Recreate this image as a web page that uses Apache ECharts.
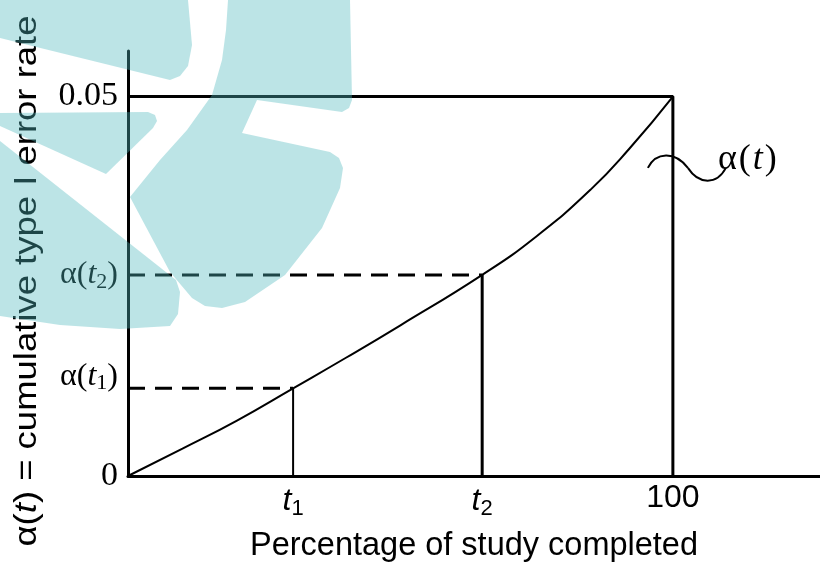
<!DOCTYPE html>
<html>
<head>
<meta charset="utf-8">
<script src="https://cdn.jsdelivr.net/npm/echarts@6/dist/echarts.min.js"></script>
<style>
  html, body { margin: 0; padding: 0; background: #fff; }
  #chart { width: 820px; height: 568px; }
</style>
</head>
<body>
<div id="chart"></div>
<script>
// cumulative type I error spending curve
var curveX = [0, 10, 20, 30.3, 40, 50, 65, 75, 85, 92, 100];
var curveY = [0, 0.0036, 0.0073, 0.01155, 0.01558, 0.01986, 0.0265, 0.0316, 0.0378, 0.04312, 0.05];

var t1 = 30.3, t2 = 65, tEnd = 100;
var alphaT1 = 0.01155, alphaT2 = 0.0265, alphaMax = 0.05;

var yTickValues = [0, alphaT1, alphaT2, alphaMax];
var yTickLabels = ['{n|0}', '{a1|α}{p1|(}{i1|t}{s1|1}{p1|)}', '{a|α}{p|(}{i|t}{s|2}{p|)}', '{n|0.05}'];
var xTickValues = [t1, t2, tEnd];
var xTickLabels = ['{i|t}{s|1}', '{i|t}{s|2}', '{n|100}'];

var yName = '{a|α(}{i|t}{a|) = cumulative type I error rate}';
var xName = 'Percentage of study completed';

var squigglePoint = [100, 0.0406];

var serif = 'Liberation Serif';
var sans = 'Liberation Sans';

function pick(values, labels, v) {
  for (var i = 0; i < values.length; i++) {
    if (Math.abs(values[i] - v) < 1e-7) return labels[i];
  }
  return '';
}

function zip(a, b) {
  return a.map(function(x, i) { return [x, b[i]]; });
}

var chart = echarts.init(document.getElementById('chart'));

// watermark laid over the figure (decorative)
var wmFill = 'rgba(79,184,189,0.38)';
var watermark = [
  [[0,0],[188,0],[192,45],[188,66],[180,76],[170,80],[0,38]],
  [[0,113],[148,112],[155,115],[157,121],[153,128],[106,174],[0,126]],
  [[0,141],[176,280],[180,292],[178,314],[170,326],[120,329],[60,325],[0,316]],
  [[228,0],[350,0],[352,100],[349,108],[342,112],[257,100],[242,133],[330,152],[339,158],[343,168],
   [340,188],[322,228],[285,275],[245,302],[222,308],[205,306],[192,298],[170,272],[130,197],
   [160,160],[187,130],[212,95],[222,60],[226,30]]
].map(function(pts) {
  return { type: 'polygon', z: 100, silent: true, shape: { points: pts }, style: { fill: wmFill } };
});

watermark.push({
  type: 'text',
  z: 10,
  x: 27,
  y: 281,
  rotation: Math.PI / 2,
  scaleX: 1.14,
  style: {
    text: yName,
    align: 'center',
    verticalAlign: 'middle',
    rich: {
      a: { fontFamily: sans, fontSize: 32, fill: '#000' },
      i: { fontFamily: sans, fontStyle: 'italic', fontSize: 32, fill: '#000' }
    }
  }
});

var option = {
  animation: false,
  backgroundColor: '#fff',
  grid: { left: 128, right: 0, top: 51, bottom: 90 },
  graphic: watermark,
  xAxis: {
    type: 'value',
    min: 0,
    max: 127,
    name: xName,
    nameLocation: 'middle',
    nameGap: 54,
    nameTextStyle: { fontFamily: sans, fontSize: 32.5, color: '#000' },
    axisLine: { lineStyle: { color: '#000', width: 3 } },
    axisTick: { show: false },
    splitLine: { show: false },
    axisLabel: {
      customValues: xTickValues,
      margin: 6,
      color: '#000',
      formatter: function(v) { return pick(xTickValues, xTickLabels, v); },
      rich: {
        i: { fontFamily: sans, fontStyle: 'italic', fontSize: 32, color: '#000' },
        s: { fontFamily: sans, fontSize: 22, color: '#000', padding: [16, 0, 0, 0] },
        n: { fontFamily: sans, fontSize: 32, color: '#000' }
      }
    }
  },
  yAxis: {
    type: 'value',
    min: 0,
    max: 0.056,
    axisLine: { show: true, lineStyle: { color: '#000', width: 3 } },
    axisTick: { show: false },
    splitLine: { show: false },
    axisLabel: {
      customValues: yTickValues,
      margin: 10,
      color: '#000',
      formatter: function(v) { return pick(yTickValues, yTickLabels, v); },
      rich: {
        n: { fontFamily: serif, fontSize: 34, color: '#000' },
        a: { fontFamily: serif, fontSize: 32, color: '#000' },
        p: { fontFamily: serif, fontSize: 32, color: '#000' },
        i: { fontFamily: serif, fontStyle: 'italic', fontSize: 32, color: '#000' },
        s: { fontFamily: serif, fontSize: 22, color: '#000', padding: [14, 0, 0, 0] },
        a1: { fontFamily: serif, fontSize: 32, color: '#000', padding: [0, 0, 24, 0] },
        p1: { fontFamily: serif, fontSize: 32, color: '#000', padding: [0, 0, 24, 0] },
        i1: { fontFamily: serif, fontStyle: 'italic', fontSize: 32, color: '#000', padding: [0, 0, 24, 0] },
        s1: { fontFamily: serif, fontSize: 22, color: '#000', padding: [14, 0, 24, 0] }
      }
    }
  },
  series: [
    {
      name: 'alpha',
      type: 'line',
      data: zip(curveX, curveY),
      smooth: true,
      symbol: 'none',
      lineStyle: { color: '#000', width: 2 }
    },
    {
      name: 'box',
      type: 'line',
      data: [[0, alphaMax], [tEnd, alphaMax], [tEnd, 0]],
      symbol: 'none',
      lineStyle: { color: '#000', width: 3 }
    },
    {
      name: 't2',
      type: 'line',
      data: [[t2, 0], [t2, alphaT2]],
      symbol: 'none',
      lineStyle: { color: '#000', width: 3 }
    },
    {
      name: 't1',
      type: 'line',
      data: [[t1, 0], [t1, alphaT1]],
      symbol: 'none',
      lineStyle: { color: '#000', width: 2 }
    },
    {
      name: 'a1',
      type: 'line',
      data: [[0, alphaT1], [t1, alphaT1]],
      symbol: 'none',
      lineStyle: { color: '#000', width: 3, type: [17, 10] }
    },
    {
      name: 'a2',
      type: 'line',
      data: [[0, alphaT2], [t2, alphaT2]],
      symbol: 'none',
      lineStyle: { color: '#000', width: 3, type: [17, 10] }
    },
    {
      name: 'label',
      type: 'custom',
      data: [squigglePoint],
      renderItem: function(params, api) {
        var p = api.coord([api.value(0), api.value(1)]);
        var x = p[0], y = p[1];
        return {
          type: 'group',
          children: [
            {
              type: 'bezierCurve',
              shape: { x1: x - 25, y1: y, cpx1: x - 17, cpy1: y - 16, cpx2: x + 2, cpy2: y - 17, x2: x + 15, y2: y },
              style: { stroke: '#000', lineWidth: 2, fill: null }
            },
            {
              type: 'bezierCurve',
              shape: { x1: x + 15, y1: y, cpx1: x + 26, cpy1: y + 17, cpx2: x + 44, cpy2: y + 17, x2: x + 53, y2: y },
              style: { stroke: '#000', lineWidth: 2, fill: null }
            },
            {
              type: 'text',
              x: x + 45,
              y: y - 8,
              style: {
                text: '{a|α}{p|(}{i|t}{p|)}',
                align: 'left',
                verticalAlign: 'middle',
                rich: {
                  a: { fontFamily: serif, fontSize: 36, fill: '#000' },
                  p: { fontFamily: serif, fontSize: 36, fill: '#000', padding: [0, 2, 0, 2] },
                  i: { fontFamily: serif, fontStyle: 'italic', fontSize: 36, fill: '#000' }
                }
              }
            }
          ]
        };
      }
    }
  ]
};

chart.setOption(option);
</script>
</body>
</html>
